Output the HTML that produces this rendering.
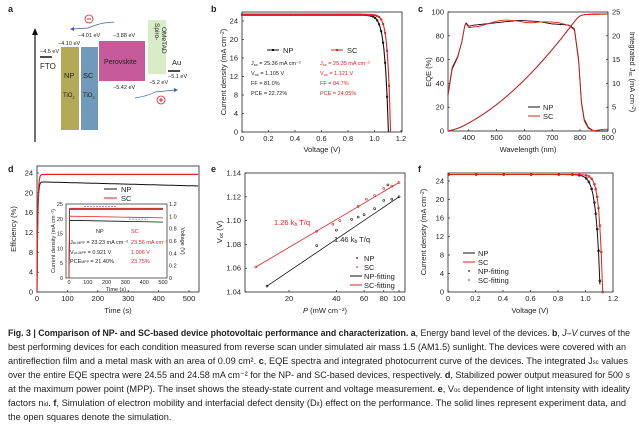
<!DOCTYPE html>
<html><head><meta charset="utf-8"><style>
body{margin:0;background:#fff;width:639px;height:425px;overflow:hidden}
svg{display:block;font-family:"Liberation Sans",sans-serif}
text{fill:#222}
.t{font-size:7.5px}
.s{font-size:5.5px}
.cap{font-size:9.2px;fill:#333}
</style></head><body>
<svg id="s" width="639" height="425" viewBox="0 0 639 425">
<g font-weight="bold" font-size="9"><text x="8" y="12">a</text><text x="211" y="12">b</text><text x="418" y="12">c</text><text x="8" y="172">d</text><text x="211" y="172">e</text><text x="418" y="172">f</text></g>
<line x1="35" y1="142" x2="35" y2="33" stroke="#111" stroke-width="1.2"/><polygon points="35,28 32,35 38,35" fill="#111"/>
<line x1="40" y1="57" x2="52" y2="57" stroke="#111" stroke-width="1.5"/>
<text x="40" y="53" class="s">−4.5 eV</text><text x="40" y="69" font-size="8">FTO</text>
<rect x="61" y="47" width="18" height="83" fill="#b3aa58"/><rect x="81" y="47" width="17" height="83" fill="#6f9ab9"/>
<rect x="99" y="41" width="46" height="40" fill="#c65a9b"/><rect x="148" y="20" width="18" height="54" fill="#d8ecc8"/>
<line x1="168" y1="71" x2="180" y2="71" stroke="#111" stroke-width="1.5"/>
<text x="172" y="65" font-size="7.5">Au</text><text x="168" y="78" class="s">−5.1 eV</text>
<text x="58" y="45" class="s">−4.10 eV</text><text x="78" y="37" class="s">−4.01 eV</text><text x="113" y="37" class="s">−3.88 eV</text>
<text x="113" y="89" class="s">−5.42 eV</text><text x="149" y="84" class="s">−5.2 eV</text>
<text x="64" y="78" font-size="7.5">NP</text><text x="83" y="78" font-size="7.5">SC</text>
<text x="63" y="97" font-size="6">TiO<tspan font-size="4" dy="2">2</tspan></text><text x="83" y="97" font-size="6">TiO<tspan font-size="4" dy="2">2</tspan></text>
<text x="104" y="64" font-size="7">Perovskite</text>
<text transform="translate(155,23) rotate(90)" font-size="6.5">Spiro-</text><text transform="translate(162,27) rotate(90)" font-size="6.5">OMeTAD</text>
<path d="M72 29 L88 28 Q98 24 104 23 L114 22" stroke="#3a5fa8" fill="none" stroke-width="0.7"/><polygon points="70,29 74,27 74,31" fill="#3a5fa8"/>
<circle cx="89" cy="19" r="4" fill="none" stroke="#d22" stroke-width="0.8"/><line x1="87" y1="19" x2="91" y2="19" stroke="#d22"/>
<path d="M135 98 Q148 96 155 92 L175 90" stroke="#3a5fa8" fill="none" stroke-width="0.7"/><polygon points="178,90 174,88 174,92" fill="#3a5fa8"/>
<circle cx="161" cy="100" r="4" fill="none" stroke="#d22" stroke-width="0.8"/><line x1="159" y1="100" x2="163" y2="100" stroke="#d22"/><line x1="161" y1="98" x2="161" y2="102" stroke="#d22"/>
<g id="dyn"></g>
<g class="cap">
<text x="8" y="336" textLength="622" lengthAdjust="spacingAndGlyphs"><tspan font-weight="bold">Fig. 3 | Comparison of NP- and SC-based device photovoltaic performance and characterization. a</tspan>, Energy band level of the devices. <tspan font-weight="bold">b</tspan>, <tspan font-style="italic">J–V</tspan> curves of the</text>
<text x="8" y="350" textLength="618" lengthAdjust="spacingAndGlyphs">best performing devices for each condition measured from reverse scan under simulated air mass 1.5 (AM1.5) sunlight. The devices were covered with an</text>
<text x="8" y="364" textLength="620" lengthAdjust="spacingAndGlyphs">antireflection film and a metal mask with an area of 0.09 cm². <tspan font-weight="bold">c</tspan>, EQE spectra and integrated photocurrent curve of the devices. The integrated J<tspan font-size="6">sc</tspan> values</text>
<text x="8" y="378" textLength="622" lengthAdjust="spacingAndGlyphs">over the entire EQE spectra were 24.55 and 24.58 mA cm⁻² for the NP- and SC-based devices, respectively. <tspan font-weight="bold">d</tspan>, Stabilized power output measured for 500 s</text>
<text x="8" y="392" textLength="622" lengthAdjust="spacingAndGlyphs">at the maximum power point (MPP). The inset shows the steady-state current and voltage measurement. <tspan font-weight="bold">e</tspan>, V<tspan font-size="6">oc</tspan> dependence of light intensity with ideality</text>
<text x="8" y="406" textLength="618" lengthAdjust="spacingAndGlyphs">factors n<tspan font-size="6">id</tspan>. <tspan font-weight="bold">f</tspan>, Simulation of electron mobility and interfacial defect density (D<tspan font-size="6">it</tspan>) effect on the performance. The solid lines represent experiment data, and</text>
<text x="8" y="420">the open squares denote the simulation.</text>
</g>
</svg>
<script>
var g=document.getElementById('dyn'),h='';
function P(pts,c,w,extra){return '<path d="M'+pts.map(p=>p[0].toFixed(1)+' '+p[1].toFixed(1)).join(' L')+'" fill="none" stroke="'+c+'" stroke-width="'+(w||1)+'" '+(extra||'')+'/>';}
function T(x,y,s,a,cl,fill){return '<text x="'+x+'" y="'+y+'" class="'+(cl||'t')+'" text-anchor="'+(a||'middle')+'"'+(fill?' style="fill:'+fill+'"':'')+'>'+s+'</text>';}
function box(x1,y1,x2,y2){return '<rect x="'+x1+'" y="'+y1+'" width="'+(x2-x1)+'" height="'+(y2-y1)+'" fill="none" stroke="#222" stroke-width="0.8"/>';}
function tk(x,y,dx,dy){return '<line x1="'+x+'" y1="'+y+'" x2="'+(x+dx)+'" y2="'+(y+dy)+'" stroke="#222" stroke-width="0.7"/>';}
(function(){var X=v=>242+v*132.5,Y=j=>132-j*4.625;h+=box(242,12,402,132);
for(var v=0;v<=1.2001;v+=0.2){h+=tk(X(v),132,0,-2)+T(X(v),141,(+v.toFixed(1))==0?'0':v.toFixed(1));}
for(var j=0;j<=24;j+=4){h+=tk(242,Y(j),2,0)+T(238,Y(j)+2.5,j,'end');}
h+=T(322,152,'Voltage (V)');h+='<text transform="translate(226,72) rotate(-90)" class="t" text-anchor="middle">Current density (mA cm<tspan dy="-2" font-size="5">−2</tspan><tspan dy="2">)</tspan></text>';
[[25.36,1.105,0.028,'#111'],[25.35,1.121,0.022,'#d22']].forEach(function(c){var pts=[];for(var v=0;v<=c[1]+0.001;v+=0.005){var J=c[0]*(1-Math.exp((v-c[1])/c[2]));pts.push([X(v),Y(Math.max(J,0))]);}
pts.push([X(c[1]),132]);h+=P(pts,c[3],1.1);for(var v=0;v<c[1];v+=(v<0.9?0.01:0.015)){var J=c[0]*(1-Math.exp((v-c[1])/c[2]));h+='<rect x="'+(X(v)-1)+'" y="'+(Y(J)-1)+'" width="2" height="2" fill="'+c[3]+'"/>';}});
h+=P([[267,50],[279,50]],'#111',1)+'<rect x="272" y="49" width="2" height="2"/>'+T(283,53,'NP','start','t');
h+=P([[331,50],[343,50]],'#d22',1)+'<rect x="336" y="49" width="2" height="2" fill="#d22"/>'+T(347,53,'SC','start','t');
var L=[['J<tspan font-size="4" dy="1">sc</tspan><tspan dy="-1"> = 25.36 mA cm⁻²</tspan>','J<tspan font-size="4" dy="1">sc</tspan><tspan dy="-1"> = 25.35 mA cm⁻²</tspan>'],['V<tspan font-size="4" dy="1">oc</tspan><tspan dy="-1"> = 1.105 V</tspan>','V<tspan font-size="4" dy="1">oc</tspan><tspan dy="-1"> = 1.121 V</tspan>'],['FF = 81.0%','FF = 84.7%'],['PCE = 22.72%','PCE = 24.05%']];
L.forEach(function(l,i){h+=T(251,65+i*10,l[0],'start','s')+T(320,65+i*10,l[1],'start','s','#d22');});})();
(function(){var X=w=>441+(w-300)*0.278,Y=e=>131-e*1.19,Y2=j=>131-j*4.76;h+=box(448,12,608,131);
for(var w=400;w<=900;w+=100){h+=tk(X(w),131,0,-2)+T(X(w),140,w);}
for(var e=0;e<=100;e+=20){h+=tk(448,Y(e),2,0)+T(444,Y(e)+2.5,e,'end');}
for(var j=0;j<=25;j+=5){h+=tk(608,Y2(j),-2,0)+T(612,Y2(j)+2.5,j,'start');}
h+=T(528,152,'Wavelength (nm)');h+='<text transform="translate(431,72) rotate(-90)" class="t" text-anchor="middle">EQE (%)</text>';
h+='<text transform="translate(630,72) rotate(90)" class="t" text-anchor="middle">Integrated J<tspan font-size="5" dy="1">sc</tspan><tspan dy="-1"> (mA cm</tspan><tspan dy="-2" font-size="5">−2</tspan><tspan dy="2">)</tspan></text>';
var kn=[[325,30],[340,52],[360,62],[375,75],[385,88],[390,91],[400,88],[420,89],[500,91],[580,93],[650,92],[700,90],[760,89],[780,86],[795,60],[805,25],[815,10],[830,3],[850,0],[900,0]];
function interp(k,w){for(var i=1;i<k.length;i++)if(w<=k[i][0]){var t=(w-k[i-1][0])/(k[i][0]-k[i-1][0]);return k[i-1][1]+t*(k[i][1]-k[i-1][1]);}return k[k.length-1][1];}
['#111','#d22'].forEach(function(c,ci){var p=[],ws=[],cum=[],acc=0;for(var w=325;w<=900;w+=2){var e=interp(kn,w)+(ci?-1.5*Math.sin(w/30):0);p.push([X(w),Y(e)]);acc+=e*Math.pow(w/500,1.3);ws.push(w);cum.push(acc);}
var q=ws.map((w,i)=>[X(w),Y2(24.55*cum[i]/acc)]);h+=P(p,c,0.9)+P(q,c,0.9);});
h+=P([[528,107],[540,107]],'#111',1)+T(543,110,'NP','start')+P([[528,116],[540,116]],'#d22',1)+T(543,119,'SC','start');})();
(function(){var X=t=>37+t*0.304,Y=e=>292-e*4.96;h+=box(37,166,199,292);
for(var t=0;t<=500;t+=100){h+=tk(X(t),292,0,-2)+T(X(t),301,t);}
for(var e=0;e<=24;e+=4){h+=tk(37,Y(e),2,0)+T(33,Y(e)+2.5,e,'end');}
h+=T(118,313,'Time (s)');h+='<text transform="translate(16,229) rotate(-90)" class="t" text-anchor="middle">Efficiency (%)</text>';
var a=[],b=[];for(var t=0;t<=530;t+=2){var r=1-Math.exp(-t/2.5);a.push([X(t),Y(r*(22.2-0.0016*Math.max(t-15,0)))]);b.push([X(t),Y(r*23.7)]);}
h+=P(a,'#111',1)+P(b,'#d22',1.2);
h+=P([[104,189],[117,189]],'#111',1)+T(121,192,'NP','start')+P([[104,198],[117,198]],'#d22',1)+T(121,201,'SC','start');
var x=t=>69+t*0.188,y=j=>278-j*2.96;h+='<rect x="66" y="204" width="101" height="74" fill="#fff" stroke="#222" stroke-width="0.7"/>';
for(var t=0;t<=500;t+=100)h+=T(x(t),284,t,'middle','s');for(var j=0;j<=25;j+=5)h+=T(63,y(j)+2,j,'end','s');
for(var v=0;v<=1.2;v+=0.2)h+=T(169,278-v*61.7+2,(+v.toFixed(1))==0?'0':v.toFixed(1),'start','s');
h+=T(116,291,'Time (s)','middle','s');h+='<text transform="translate(55,241) rotate(-90)" class="s" text-anchor="middle">Current density (mA cm⁻²)</text>';h+='<text transform="translate(181,241) rotate(90)" class="s" text-anchor="middle">Voltage (V)</text>';
[[23.23,'#111'],[23.56,'#d22'],[19.5,'#111'],[20.9,'#d22']].forEach(function(c){h+=P([[x(0),278],[x(3),y(c[0])],[x(500),y(c[0]-(c[0]<22?0.6:0))]],c[1],0.8);});
h+=P([[x(80),y(24.2)],[x(250),y(24.2)]],'#33c',0.5,'stroke-dasharray="2 1"')+P([[x(320),y(19.9)],[x(420),y(19.9)]],'#33c',0.5,'stroke-dasharray="2 1"');
h+=T(96,233,'NP','start','s')+T(131,233,'SC','start','s','#d22');
h+=T(70,244,'J<tspan font-size="3.5">sc-MPP</tspan> = 23.23 mA cm⁻²','start','s')+T(131,244,'23.56 mA cm⁻²','start','s','#d22');
h+=T(70,254,'V<tspan font-size="3.5">oc-MPP</tspan> = 0.921 V','start','s')+T(131,254,'1.006 V','start','s','#d22');
h+=T(70,263,'PCE<tspan font-size="3.5">MPP</tspan> = 21.40%','start','s')+T(131,263,'23.75%','start','s','#d22');})();
(function(){var X=p=>289+(Math.log10(p)-Math.log10(20))*157.4,Y=v=>292-(v-1.04)*1190;h+=box(245,173,405,292);
[20,40,60,80,100].forEach(p=>{h+=tk(X(p),292,0,-2)+T(X(p),301,p);});
for(var v=1.04;v<=1.1401;v+=0.02){h+=tk(245,Y(v),2,0)+T(241,Y(v)+2.5,v.toFixed(2),'end');}
h+=T(325,313,'<tspan font-style="italic">P</tspan> (mW cm⁻²)');h+='<text transform="translate(222,232) rotate(-90)" class="t" text-anchor="middle">V<tspan font-size="5" dy="1">oc</tspan><tspan dy="-1"> (V)</tspan></text>';
h+=P([[X(14.5),Y(1.045)],[X(100),Y(1.12)]],'#111',0.8)+P([[X(12.3),Y(1.061)],[X(100),Y(1.132)]],'#d22',0.8);
[[14.5,1.045],[30,1.079],[40,1.092],[50,1.101],[55,1.103],[60,1.105],[70,1.11],[80,1.117],[85,1.13],[90,1.118],[100,1.12]].forEach(d=>h+='<circle cx="'+X(d[0])+'" cy="'+Y(d[1])+'" r="1" fill="none" stroke="#111" stroke-width="0.6"/>');
[[12.3,1.061],[30,1.091],[38,1.097],[42,1.1],[55,1.112],[62,1.118],[70,1.121],[80,1.127],[90,1.129],[100,1.132]].forEach(d=>h+='<circle cx="'+X(d[0])+'" cy="'+Y(d[1])+'" r="1" fill="none" stroke="#d22" stroke-width="0.6"/>');
h+=T(274,225,'1.26 k<tspan font-size="5" dy="1">b</tspan><tspan dy="-1"> T/q</tspan>','start','t','#d22')+T(334,242,'1.46 k<tspan font-size="5" dy="1">b</tspan><tspan dy="-1"> T/q</tspan>','start','t');
h+='<circle cx="357" cy="258" r="1" fill="#555"/>'+T(364,261,'NP','start')+'<circle cx="357" cy="267" r="1" fill="#e66"/>'+T(364,270,'SC','start')+P([[350,276],[362,276]],'#111',1)+T(364,279,'NP-fitting','start')+P([[350,285],[362,285]],'#d22',1)+T(364,288,'SC-fitting','start');})();
(function(){var X=v=>448+v*137.5,Y=j=>292-j*4.625;h+=box(448,173,613,292);
for(var v=0;v<=1.2001;v+=0.2){h+=tk(X(v),292,0,-2)+T(X(v),301,(+v.toFixed(1))==0?'0':v.toFixed(1));}
for(var j=0;j<=24;j+=4){h+=tk(448,Y(j),2,0)+T(444,Y(j)+2.5,j,'end');}
h+=T(530,313,'Voltage (V)');h+='<text transform="translate(426,232) rotate(-90)" class="t" text-anchor="middle">Current density (mA cm<tspan dy="-2" font-size="5">−2</tspan><tspan dy="2">)</tspan></text>';
[[25.4,1.107,0.03,'#111'],[25.4,1.124,0.024,'#d22']].forEach(function(c){var pts=[];for(var v=0;v<=c[1]+0.001;v+=0.005){var J=c[0]*(1-Math.exp((v-c[1])/c[2]));pts.push([X(v),Y(Math.max(J,0))]);}h+=P(pts,c[3],1);
[0,0.2,0.4,0.6,0.8,0.9,0.95,1.0,1.02,1.04,1.06,1.07,1.08,1.09,1.1,1.11,1.12].forEach(function(v){var J=c[0]*(1-Math.exp((v-c[1]+0.004)/c[2]));if(J>0)h+='<circle cx="'+X(v+0.005)+'" cy="'+Y(J)+'" r="1" fill="none" stroke="'+c[3]+'" stroke-width="0.6"/>';});});
h+=P([[463,253],[475,253]],'#111',1)+T(478,256,'NP','start')+P([[463,262],[475,262]],'#d22',1)+T(478,265,'SC','start')+'<circle cx="469" cy="271" r="1" fill="#555"/>'+T(478,274,'NP-fitting','start')+'<circle cx="469" cy="280" r="1" fill="#e66"/>'+T(478,283,'SC-fitting','start');})();
g.innerHTML=h;
</script>
</body></html>
